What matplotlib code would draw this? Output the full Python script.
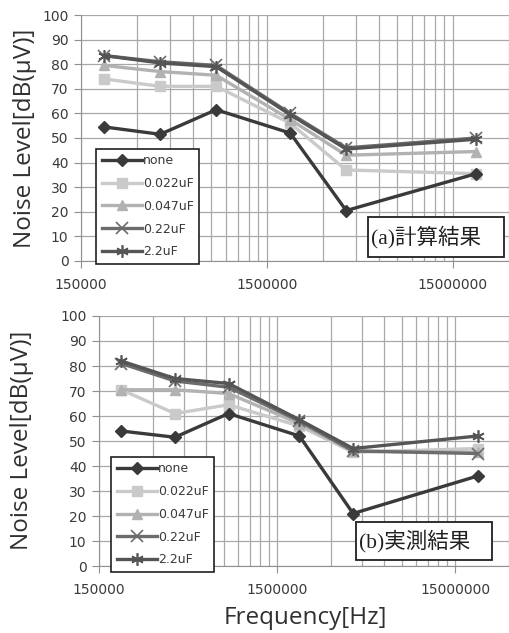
import numpy as np
import matplotlib
matplotlib.use('Agg')
import matplotlib.pyplot as plt
import matplotlib.patches as mpatches
from matplotlib.ticker import FixedLocator, NullFormatter

# frequency points [Hz]
freq = [200000, 400000, 800000, 2000000, 4000000, 20000000]
labels = ['none', '0.022uF', '0.047uF', '0.22uF', '2.2uF']

# (a) calculated
calc_none = [54.5, 51.5, 61.5, 52, 20.5, 35.5]
calc_022n = [74, 71, 71, 56, 37, 35.5]
calc_047n = [79.5, 77, 75.5, 57.5, 43, 44.5]
calc_022u = [83.5, 81, 79.5, 60, 46, 50]
calc_22u = [83.5, 80.5, 79, 59.5, 45.5, 49.5]

# (b) measured
meas_none = [54, 51.5, 61, 52, 21, 36]
meas_022n = [70.5, 61, 64.5, 56, 45.5, 47]
meas_047n = [70.5, 70.5, 69, 57, 46, 45.5]
meas_022u = [81, 74, 71.5, 58, 46, 45]
meas_22u = [82, 75, 73, 58.5, 47, 52]

x_major = [150000, 1500000, 15000000]

styles = [
    dict(color='#3a3a3a', marker='D', ms=6, lw=2.4, zorder=7),
    dict(color='#cacaca', marker='s', ms=7, lw=2.4, zorder=3),
    dict(color='#b2b2b2', marker='^', ms=7, lw=2.4, zorder=4),
    dict(color='#6c6c6c', marker='x', ms=8, mew=1.2, lw=2.4, zorder=5),
    dict(color='#555555', marker=(6, 2, 0), ms=9, mew=1.2, lw=2.4, zorder=6),
]

tick_col = '#3a3a3a'
grid_col = '#a8a8a8'

fig = plt.figure(figsize=(5.09, 6.33), dpi=100)


def draw_panel(ax, series, tag, leg_anchor, box):
    for vals, lab, st in zip(series, labels, styles):
        ax.plot(freq, vals, label=lab, **st)

    ax.set_xscale('log')
    ax.set_xlim(150000, 30000000)
    ax.set_ylim(0, 100)

    minors = []
    for dec in x_major:
        for k in range(2, 10):
            minors.append(dec * k)
    ax.xaxis.set_major_locator(FixedLocator(x_major))
    ax.xaxis.set_minor_locator(FixedLocator(minors))
    ax.xaxis.set_minor_formatter(NullFormatter())
    ax.set_xticklabels([str(v) for v in x_major])
    ax.set_yticks(np.arange(0, 101, 10))

    ax.grid(True, which='both', axis='x', color=grid_col, lw=0.9)
    ax.grid(True, which='major', axis='y', color=grid_col, lw=0.9)
    ax.set_axisbelow(True)

    for s in ['top', 'right']:
        ax.spines[s].set_visible(False)
    ax.spines['left'].set_color('#909090')
    ax.spines['bottom'].set_color('#909090')
    ax.tick_params(axis='both', which='major', colors='#909090', labelcolor=tick_col,
                   labelsize=10, length=5, direction='out')
    ax.tick_params(axis='x', which='minor', length=0)
    ax.tick_params(axis='x', pad=7)
    ax.tick_params(axis='y', pad=4)

    leg = ax.legend(loc='lower left', bbox_to_anchor=leg_anchor, borderaxespad=0,
                    fancybox=False, framealpha=1, edgecolor='#202020',
                    fontsize=9, handlelength=3.2, handletextpad=0.1,
                    labelspacing=0.78, borderpad=0.45, labelcolor=tick_col)
    leg.get_frame().set_linewidth(1.2)
    leg.set_zorder(10)

    x0, x1, y0, y1 = box
    ax.add_patch(mpatches.Rectangle((x0, y0), x1 - x0, y1 - y0, transform=ax.transAxes,
                                    facecolor='white', edgecolor='#202020', lw=1.3,
                                    zorder=10, clip_on=False))
    ax.text(x0 + 0.006, (y0 + y1) / 2, tag, transform=ax.transAxes, fontsize=15.5,
            family=['Liberation Serif', 'Noto Sans CJK JP'], va='center', ha='left',
            color='#202020', zorder=11)


ax1 = fig.add_axes([0.159, 0.5877, 0.841, 0.3886])
draw_panel(ax1, [calc_none, calc_022n, calc_047n, calc_022u, calc_22u], '(a)計算結果',
           (0.035, -0.012), (0.671, 0.988, 0.016, 0.179))

ax2 = fig.add_axes([0.1945, 0.1058, 0.8055, 0.395])
draw_panel(ax2, [meas_none, meas_022n, meas_047n, meas_022u, meas_22u], '(b)実測結果',
           (0.029, -0.024), (0.627, 0.959, 0.024, 0.176))

ylab = 'Noise Level[dB(μV)]'
fig.text(25 / 509, 1 - 138 / 633, ylab, rotation=90, fontsize=17.5, color='#303030',
         ha='center', va='center', family='Open Sans')
fig.text(22 / 509, 1 - 440 / 633, ylab, rotation=90, fontsize=17.5, color='#303030',
         ha='center', va='center', family='Open Sans')
fig.text(305 / 509, 1 - 618 / 633, 'Frequency[Hz]', fontsize=17.5, color='#303030',
         ha='center', va='center', family='Open Sans')

fig.savefig('out.png', dpi=100)
